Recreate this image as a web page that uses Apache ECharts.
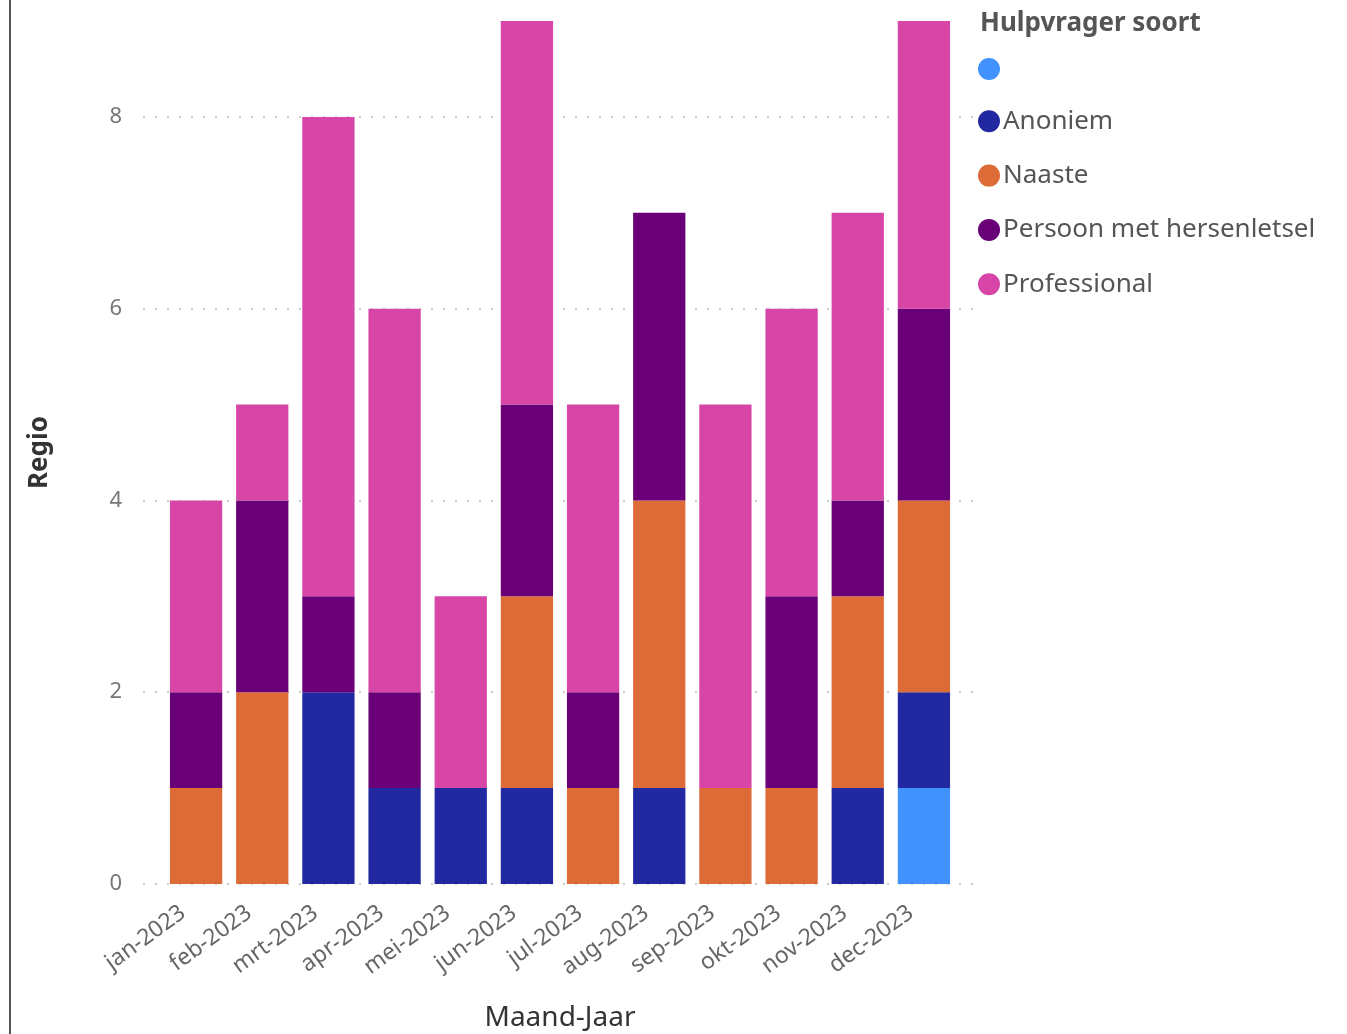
<!DOCTYPE html>
<html>
<head>
<meta charset="utf-8">
<script src="https://cdn.jsdelivr.net/npm/echarts@6/dist/echarts.min.js"></script>
<style>
  html, body { margin: 0; padding: 0; background: #fff; }
  #chart { width: 1347px; height: 1034px; }
</style>
</head>
<body>
<div id="chart"></div>
<script>
// maanden
var months = ['jan-2023', 'feb-2023', 'mrt-2023', 'apr-2023', 'mei-2023', 'jun-2023',
  'jul-2023', 'aug-2023', 'sep-2023', 'okt-2023', 'nov-2023', 'dec-2023'];

// aantallen per hulpvrager soort
var leeg         = [0, 0, 0, 0, 0, 0, 0, 0, 0, 0, 0, 1];
var anoniem      = [0, 0, 2, 1, 1, 1, 0, 1, 0, 0, 1, 1];
var naaste       = [1, 2, 0, 0, 0, 2, 1, 3, 1, 1, 2, 2];
var persoon      = [1, 2, 1, 1, 0, 2, 1, 3, 0, 2, 1, 2];
var professional = [2, 1, 5, 4, 2, 4, 3, 0, 4, 3, 3, 3];

var yTicks = { min: 0, max: 9, interval: 2 };

var seriesNames = ['(Leeg)', 'Anoniem', 'Naaste', 'Persoon met hersenletsel', 'Professional'];
var seriesData = [leeg, anoniem, naaste, persoon, professional];
var colors = ['#4192ff', '#2128a0', '#dd6b37', '#6a0078', '#d745a6'];

var myChart = echarts.init(document.getElementById('chart'));

var option = {
  backgroundColor: '#ffffff',
  color: colors,
  animation: false,
  title: {
    text: 'Hulpvrager soort',
    left: 975,
    top: 6,
    textStyle: {
      fontFamily: 'Noto Sans',
      fontSize: 26,
      fontWeight: 'bold',
      color: '#555'
    }
  },
  legend: {
    orient: 'vertical',
    left: 973,
    top: 53,
    icon: 'circle',
    itemWidth: 22,
    itemHeight: 22,
    itemGap: 28.3,
    data: seriesNames,
    formatter: function (name) {
      return name === '(Leeg)' ? '' : name;
    },
    textStyle: {
      fontFamily: 'Noto Sans',
      fontSize: 26,
      color: '#555',
      padding: [0, 0, 0, -2]
    }
  },
  graphic: [{
    type: 'line',
    shape: { x1: 10, y1: 0, x2: 10, y2: 1034 },
    style: { stroke: '#555', lineWidth: 2 }
  }],
  grid: [
    { left: 143, right: 372, top: 21, bottom: 150, outerBoundsMode: 'none' },
    { left: 163, right: 390, top: 21, bottom: 150, outerBoundsMode: 'none' }
  ],
  xAxis: [
    { type: 'value', gridIndex: 0, show: false },
    {
      type: 'category',
      gridIndex: 1,
      data: months,
      axisLine: { show: false },
      axisTick: { show: false },
      axisLabel: {
        rotate: 36,
        margin: 17,
        padding: [0, 16, 0, 0],
        fontFamily: 'Noto Sans',
        fontSize: 23,
        color: '#666'
      },
      name: 'Maand-Jaar',
      nameLocation: 'middle',
      nameGap: 120,
      nameTextStyle: {
        fontFamily: 'Noto Sans',
        fontSize: 28,
        color: '#333'
      }
    }
  ],
  yAxis: [
    {
      type: 'value',
      gridIndex: 0,
      min: yTicks.min,
      max: yTicks.max,
      interval: yTicks.interval,
      axisLine: { show: false },
      axisTick: { show: false },
      axisLabel: {
        showMaxLabel: false,
        margin: 21,
        fontFamily: 'Noto Sans',
        fontSize: 22,
        color: '#777'
      },
      splitLine: {
        showMaxLine: false,
        lineStyle: { color: '#cccccc', type: [2, 10], width: 2 }
      },
      name: 'Regio',
      nameLocation: 'middle',
      nameGap: 90,
      nameRotate: 90,
      nameTextStyle: {
        fontFamily: 'Noto Sans',
        fontSize: 26,
        fontWeight: 'bold',
        color: '#333'
      }
    },
    {
      type: 'value',
      gridIndex: 1,
      min: yTicks.min,
      max: yTicks.max,
      interval: yTicks.interval,
      show: false,
      splitLine: { show: false }
    }
  ],
  series: seriesNames.map(function (name, i) {
    return {
      name: name,
      type: 'bar',
      stack: 'totaal',
      xAxisIndex: 1,
      yAxisIndex: 1,
      barCategoryGap: '21%',
      data: seriesData[i]
    };
  })
};

myChart.setOption(option);
</script>
</body>
</html>
